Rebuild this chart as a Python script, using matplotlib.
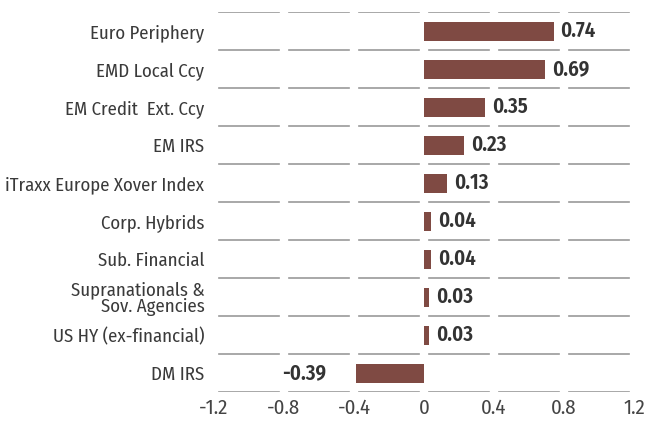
import matplotlib.pyplot as plt
import numpy as np

categories = [
    "Euro Periphery",
    "EMD Local Ccy",
    "EM Credit  Ext. Ccy",
    "EM IRS",
    "iTraxx Europe Xover Index",
    "Corp. Hybrids",
    "Sub. Financial",
    "Supranationals &\nSov. Agencies",
    "US HY (ex-financial)",
    "DM IRS",
]
values = [0.74, 0.69, 0.35, 0.23, 0.13, 0.04, 0.04, 0.03, 0.03, -0.39]
xticks = [-1.2, -0.8, -0.4, 0, 0.4, 0.8, 1.2]
xtick_labels = ["-1.2", "-0.8", "-0.4", "0", "0.4", "0.8", "1.2"]

plt.rcParams["font.family"] = ["Fira Sans Condensed", "DejaVu Sans"]

fig = plt.figure(figsize=(6.45, 4.22), dpi=100)
ax = fig.add_axes([214 / 645, 30 / 422, 420 / 645, 380 / 422])

y = np.arange(len(categories))
ax.barh(y, values, height=0.5, color="#7F4A43", zorder=3)

# separators between rows, broken at each tick by white strips
for k in range(len(categories) + 1):
    ax.axhline(k - 0.5, color="#9a9a9a", lw=1.2, zorder=1)
for t in xticks:
    ax.axvline(t, color="white", lw=6, zorder=2)

for yi, v in zip(y, values):
    if v >= 0:
        ax.annotate(f"{v:.2f}", (v, yi), xytext=(5, 0), textcoords="offset points",
                    ha="left", va="center", fontsize=15, fontweight="semibold", color="#333333")
    else:
        ax.annotate(f"{v:.2f}", (v, yi), xytext=(-21, 0), textcoords="offset points",
                    ha="right", va="center", fontsize=15, fontweight="semibold", color="#333333")

ax.set_xlim(-1.2, 1.2)
ax.set_ylim(len(categories) - 0.5, -0.5)
ax.set_yticks(y)
ax.set_yticklabels(categories, fontsize=13.5, color="#3a3a3a", linespacing=0.92)
ax.set_xticks(xticks)
ax.set_xticklabels(xtick_labels, fontsize=15, color="#444444")
ax.tick_params(length=0)
ax.tick_params(axis="y", pad=7)
ax.tick_params(axis="x", pad=5)
for s in ax.spines.values():
    s.set_visible(False)

fig.savefig("out.png", dpi=100)
